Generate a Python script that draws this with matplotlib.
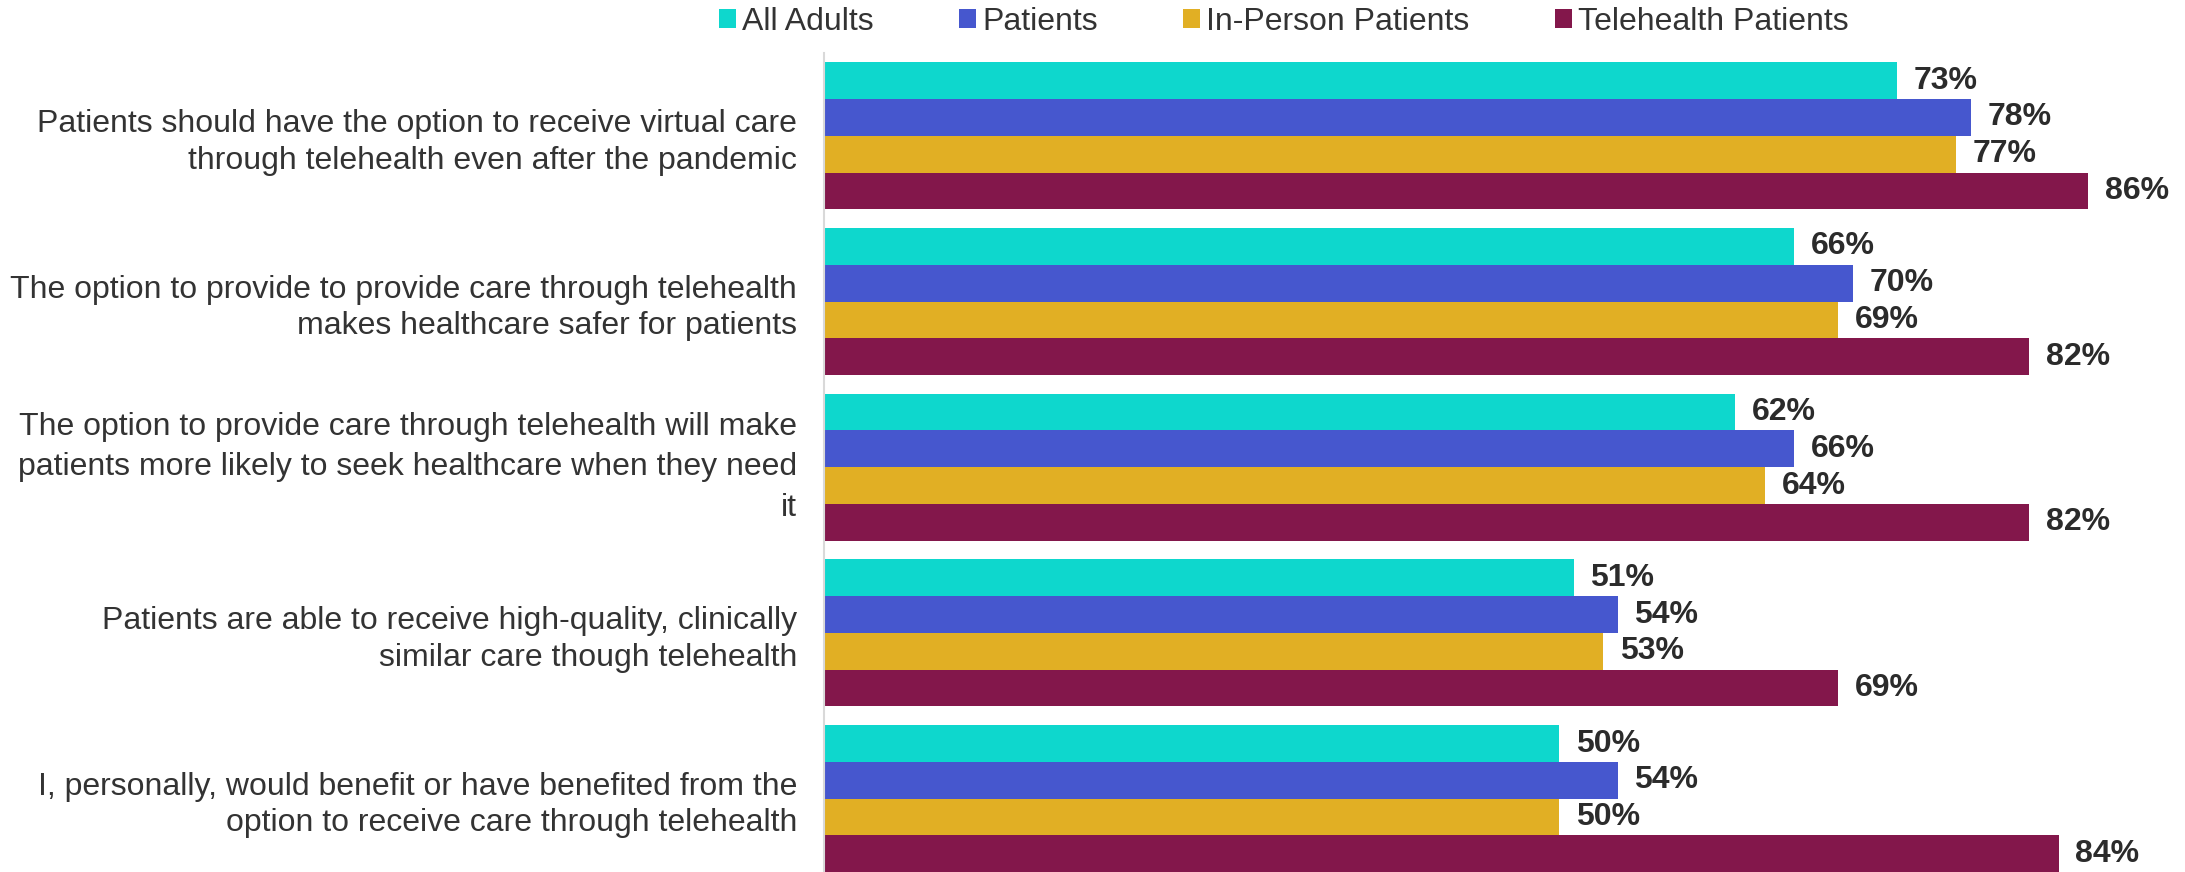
import matplotlib
matplotlib.use("Agg")
import matplotlib.pyplot as plt
import numpy as np

plt.rcParams["font.family"] = ["Liberation Sans", "DejaVu Sans"]

categories = [
    "Patients should have the option to receive virtual care\nthrough telehealth even after the pandemic",
    "The option to provide to provide care through telehealth\nmakes healthcare safer for patients",
    "The option to provide care through telehealth will make\npatients more likely to seek healthcare when they need\nit",
    "Patients are able to receive high-quality, clinically\nsimilar care though telehealth",
    "I, personally, would benefit or have benefited from the\noption to receive care through telehealth",
]
series_names = ["All Adults", "Patients", "In-Person Patients", "Telehealth Patients"]
all_adults = [73, 66, 62, 51, 50]
patients = [78, 70, 66, 54, 54]
in_person = [77, 69, 64, 53, 50]
telehealth = [86, 82, 82, 69, 84]
series_values = [all_adults, patients, in_person, telehealth]
colors = ["#0ED7CD", "#4657CE", "#E1AF24", "#83174B"]

W, H = 2185, 872
fig = plt.figure(figsize=(W / 100, H / 100), dpi=100)
ax = fig.add_axes([824 / W, 0, 1 - 824 / W, 819 / H])

group_pos = np.arange(len(categories))
bar_h = 36.75 / 165.7

for i, (name, vals, col) in enumerate(zip(series_names, series_values, colors)):
    y = group_pos + (i - 1.5) * bar_h
    bars = ax.barh(y, vals, height=bar_h, color=col, label=name, linewidth=0)
    ax.bar_label(bars, labels=[f"{v}%" for v in vals], padding=12,
                 fontsize=23, fontweight="bold", color="#2b2b2b")

ax.set_xlim(0, 1361 / 14.70)
ax.set_ylim(-0.5 + 819 / 165.7, -0.5)

ax.set_yticks(group_pos)
ax.set_yticklabels([])
for k, lab in enumerate(categories):
    three = lab.count("\n") >= 2
    ax.text(-27 / 14.70, k + (0.0 if three else 0.04), lab, ha="right", va="center",
            fontsize=23, color="#333333", linespacing=1.45 if three else 1.27,
            multialignment="right")

ax.tick_params(left=False, bottom=False, labelbottom=False)
for side in ["top", "right", "bottom"]:
    ax.spines[side].set_visible(False)
ax.spines["left"].set_color("#d9d9d9")
ax.spines["left"].set_linewidth(1.5)

handles, labels = ax.get_legend_handles_labels()
fig.legend(handles, labels, loc="upper left", bbox_to_anchor=(719 / W, 1 - 7 / H),
           ncol=4, frameon=False, fontsize=23, handlelength=0.53, handleheight=0.53,
           handletextpad=0.19, columnspacing=2.68, borderpad=0, borderaxespad=0,
           labelcolor="#333333")

fig.savefig("out.png", dpi=100)
